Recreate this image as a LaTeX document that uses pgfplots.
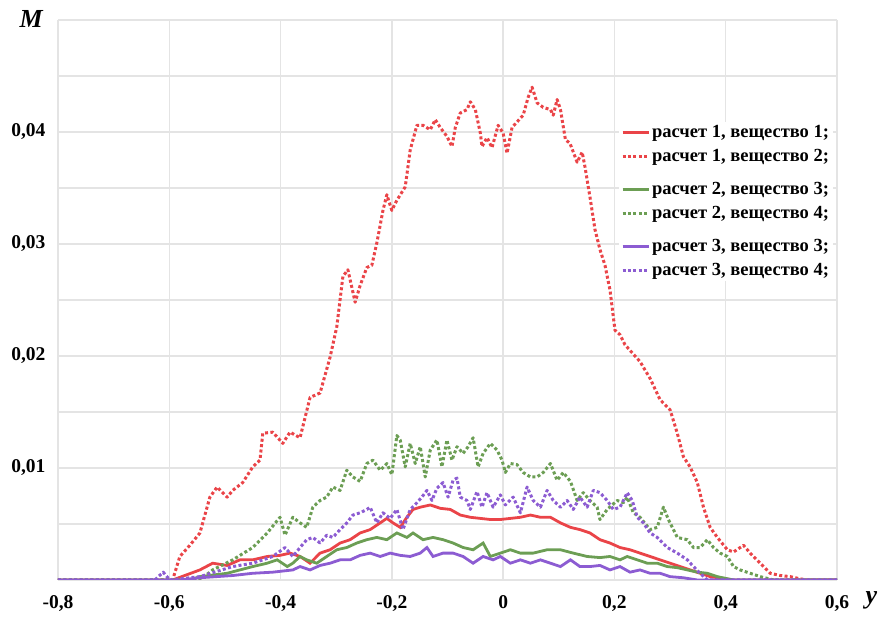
\documentclass[border=0pt]{standalone}
\usepackage{fontspec}
\setmainfont{Liberation Serif}
\usepackage{pgfplots}
\pgfplotsset{compat=1.18}
\definecolor{cred}{RGB}{234,68,72}
\definecolor{cgreen}{RGB}{108,158,84}
\definecolor{cpurple}{RGB}{140,92,210}
\definecolor{cgrid}{RGB}{228,228,228}
\tikzset{dotline/.style={line width=3bp, dash pattern=on 3bp off 2.4bp, line cap=butt, line join=round},
         solline/.style={line width=2.8bp}}
\pgfplotsset{gapimage/.style={legend image code/.code={\draw[##1] (0bp,0bp) -- (26bp,0bp); \path (0bp,-17bp);}}}
\begin{document}
\begin{tikzpicture}
\path[use as bounding box] (-58bp,-40bp) rectangle (826bp,580bp);
\begin{axis}[
  at={(0,0)}, anchor=south west,
  scale only axis, width=779bp, height=560bp,
  xmin=-0.8, xmax=0.6, ymin=0, ymax=0.05,
  scaled y ticks=false, scaled x ticks=false,
  xtick={-0.8,-0.6,-0.4,-0.2,0,0.2,0.4,0.6},
  xticklabels={{-0,8},{-0,6},{-0,4},{-0,2},{0},{0,2},{0,4},{0,6}},
  ytick={0.01,0.02,0.03,0.04},
  yticklabels={{0,01},{0,02},{0,03},{0,04}},
  minor ytick={0,0.005,0.015,0.025,0.035,0.045,0.05},
  grid=both,
  major grid style={cgrid, line width=1.3bp},
  minor grid style={cgrid, line width=1.3bp},
  axis line style={draw=none},
  major tick style={draw=none}, minor tick style={draw=none},
  ticklabel style={font=\bfseries\fontsize{19.5bp}{23bp}\selectfont},
  xticklabel style={yshift=-12bp},
  yticklabel style={xshift=-9bp},
  xlabel={\textbf{\textit{y}}},
  xlabel style={at={(rel axis cs:1,0)}, anchor=west, xshift=25bp, yshift=-20bp, font=\fontsize{26bp}{29bp}\selectfont},
  ylabel={\textbf{\textit{M}}},
  ylabel style={rotate=-90, at={(rel axis cs:0,1)}, anchor=east, xshift=-11bp, yshift=1bp, font=\fontsize{26bp}{29bp}\selectfont},
  legend style={at={(rel axis cs:0.720,0.819)}, anchor=north west, draw=none, fill=white,
    font=\bfseries\fontsize{18.5bp}{21bp}\selectfont, row sep=6bp, inner sep=2bp},
  legend cell align=left,
  legend image code/.code={\draw[#1] (0bp,0bp) -- (26bp,0bp);},
]
% red solid: расчет 1, вещество 1
\addplot[cred, solline] coordinates {
(-0.8,0) (-0.594,0) (-0.545,0.0009) (-0.522,0.0015) (-0.496,0.0013) (-0.473,0.0018)
(-0.450,0.0018) (-0.424,0.0021) (-0.401,0.0022) (-0.383,0.0024) (-0.365,0.0021)
(-0.347,0.0015) (-0.329,0.0024) (-0.311,0.0027) (-0.293,0.0033) (-0.275,0.0036)
(-0.257,0.0042) (-0.239,0.0045) (-0.221,0.0051) (-0.209,0.0055) (-0.198,0.0051)
(-0.185,0.0047) (-0.173,0.0056) (-0.162,0.0063) (-0.149,0.0065) (-0.131,0.0067)
(-0.113,0.0064) (-0.095,0.0063) (-0.077,0.0058) (-0.059,0.0056) (-0.041,0.0055)
(-0.023,0.0054) (-0.005,0.0054) (0.013,0.0055) (0.031,0.0056) (0.049,0.0058)
(0.067,0.0056) (0.085,0.0056) (0.103,0.0051) (0.121,0.0047) (0.138,0.0045)
(0.156,0.0042) (0.174,0.0036) (0.192,0.0033) (0.210,0.0029) (0.228,0.0027)
(0.246,0.0024) (0.264,0.0021) (0.282,0.0018) (0.300,0.0015) (0.318,0.0012)
(0.336,0.0009) (0.354,0.0006) (0.372,0.0003) (0.414,0) (0.6,0)
};
\addlegendentry{расчет 1, вещество 1;}
% red dotted: расчет 1, вещество 2
\addplot[cred, dotline, gapimage] coordinates {
(-0.8,0) (-0.594,0) (-0.581,0.0021) (-0.563,0.0031) (-0.545,0.0042) (-0.527,0.0074)
(-0.514,0.0083) (-0.496,0.0074) (-0.486,0.0080) (-0.468,0.0087) (-0.450,0.0101)
(-0.437,0.0107) (-0.432,0.0131) (-0.414,0.0132) (-0.396,0.0122) (-0.383,0.0132)
(-0.365,0.0127) (-0.347,0.0163) (-0.329,0.0167) (-0.311,0.0199) (-0.299,0.0226)
(-0.288,0.0271) (-0.279,0.0277) (-0.266,0.0248) (-0.257,0.0263) (-0.245,0.0279)
(-0.236,0.0281) (-0.227,0.0301) (-0.216,0.0330) (-0.209,0.0344) (-0.200,0.0330)
(-0.191,0.0339) (-0.176,0.0351) (-0.167,0.0384) (-0.155,0.0406) (-0.144,0.0406)
(-0.131,0.0402) (-0.122,0.0411) (-0.113,0.0404) (-0.101,0.0396) (-0.092,0.0387)
(-0.086,0.0404) (-0.077,0.0417) (-0.065,0.0420) (-0.059,0.0427) (-0.050,0.0420)
(-0.041,0.0399) (-0.038,0.0387) (-0.029,0.0395) (-0.020,0.0386) (-0.009,0.0406)
(0.000,0.0399) (0.007,0.0381) (0.016,0.0404) (0.025,0.0409) (0.036,0.0415)
(0.045,0.0431) (0.052,0.0440) (0.061,0.0426) (0.072,0.0422) (0.085,0.0420)
(0.090,0.0415) (0.097,0.0429) (0.103,0.0420) (0.112,0.0393) (0.120,0.0390)
(0.133,0.0373) (0.142,0.0382) (0.147,0.0369) (0.156,0.0342) (0.165,0.0313)
(0.174,0.0295) (0.183,0.0281) (0.192,0.0259) (0.201,0.0223) (0.210,0.0219)
(0.219,0.0210) (0.228,0.0205) (0.246,0.0195) (0.264,0.0180) (0.282,0.0161)
(0.300,0.0152) (0.313,0.0131) (0.324,0.0110) (0.336,0.0101) (0.349,0.0087)
(0.360,0.0065) (0.372,0.0047) (0.385,0.0038) (0.403,0.0027) (0.414,0.0025)
(0.432,0.0031) (0.444,0.0024) (0.462,0.0015) (0.480,0.0006) (0.498,0.0004)
(0.516,0.0003) (0.534,0.0001) (0.547,0) (0.6,0)
};
\addlegendentry{расчет 1, вещество 2;}
% green solid: расчет 2, вещество 3
\addplot[cgreen, solline] coordinates {
(-0.8,0) (-0.563,0) (-0.545,0.0003) (-0.496,0.0006) (-0.473,0.0009) (-0.450,0.0012)
(-0.424,0.0015) (-0.406,0.0018) (-0.388,0.0012) (-0.378,0.0015) (-0.365,0.0021)
(-0.353,0.0018) (-0.335,0.0015) (-0.317,0.0021) (-0.299,0.0027) (-0.281,0.0029)
(-0.263,0.0033) (-0.245,0.0036) (-0.227,0.0038) (-0.209,0.0036) (-0.191,0.0042)
(-0.173,0.0038) (-0.162,0.0042) (-0.144,0.0036) (-0.126,0.0038) (-0.108,0.0036)
(-0.090,0.0033) (-0.072,0.0029) (-0.054,0.0027) (-0.036,0.0033) (-0.023,0.0021)
(-0.005,0.0024) (0.013,0.0027) (0.031,0.0024) (0.054,0.0024) (0.079,0.0027)
(0.103,0.0027) (0.126,0.0024) (0.151,0.0021) (0.174,0.0020) (0.192,0.0021)
(0.210,0.0018) (0.223,0.0021) (0.241,0.0018) (0.259,0.0015) (0.277,0.0015)
(0.295,0.0012) (0.313,0.0011) (0.331,0.0009) (0.349,0.0007) (0.367,0.0006)
(0.385,0.0003) (0.414,0) (0.6,0)
};
\addlegendentry{расчет 2, вещество 3;}
% green dotted: расчет 2, вещество 4
\addplot[cgreen, dotline, gapimage] coordinates {
(-0.8,0) (-0.545,0) (-0.522,0.0009) (-0.486,0.0018) (-0.450,0.0029) (-0.424,0.0042)
(-0.401,0.0056) (-0.392,0.0040) (-0.378,0.0056) (-0.365,0.0051) (-0.353,0.0047)
(-0.342,0.0065) (-0.329,0.0071) (-0.317,0.0074) (-0.306,0.0083) (-0.293,0.0080)
(-0.281,0.0098) (-0.270,0.0092) (-0.257,0.0088) (-0.245,0.0104) (-0.234,0.0107)
(-0.221,0.0098) (-0.209,0.0104) (-0.200,0.0094) (-0.191,0.0129) (-0.185,0.0125)
(-0.176,0.0101) (-0.167,0.0122) (-0.158,0.0104) (-0.149,0.0119) (-0.140,0.0092)
(-0.131,0.0116) (-0.119,0.0125) (-0.110,0.0101) (-0.101,0.0125) (-0.092,0.0107)
(-0.083,0.0119) (-0.072,0.0113) (-0.063,0.0119) (-0.054,0.0127) (-0.045,0.0101)
(-0.036,0.0113) (-0.023,0.0122) (-0.011,0.0116) (-0.002,0.0107) (0.004,0.0096)
(0.013,0.0104) (0.025,0.0103) (0.036,0.0096) (0.049,0.0092) (0.061,0.0092)
(0.072,0.0096) (0.085,0.0104) (0.097,0.0089) (0.108,0.0096) (0.121,0.0088)
(0.133,0.0071) (0.144,0.0078) (0.156,0.0071) (0.169,0.0065) (0.174,0.0054)
(0.187,0.0063) (0.205,0.0071) (0.216,0.0069) (0.223,0.0074) (0.234,0.0060)
(0.246,0.0056) (0.264,0.0045) (0.277,0.0047) (0.288,0.0065) (0.297,0.0054)
(0.313,0.0038) (0.331,0.0036) (0.342,0.0029) (0.354,0.0029) (0.367,0.0036)
(0.378,0.0029) (0.390,0.0024) (0.403,0.0021) (0.414,0.0012) (0.426,0.0009)
(0.444,0.0006) (0.462,0.0003) (0.486,0) (0.6,0)
};
\addlegendentry{расчет 2, вещество 4;}
% purple solid: расчет 3, вещество 3
\addplot[cpurple, solline] coordinates {
(-0.8,0) (-0.581,0) (-0.545,0.0002) (-0.486,0.0004) (-0.450,0.0006) (-0.414,0.0007)
(-0.378,0.0009) (-0.365,0.0012) (-0.347,0.0009) (-0.329,0.0013) (-0.311,0.0015)
(-0.293,0.0018) (-0.275,0.0018) (-0.257,0.0022) (-0.239,0.0024) (-0.221,0.0021)
(-0.203,0.0024) (-0.185,0.0022) (-0.167,0.0021) (-0.149,0.0024) (-0.137,0.0029)
(-0.126,0.0021) (-0.108,0.0024) (-0.090,0.0024) (-0.072,0.0021) (-0.054,0.0015)
(-0.036,0.0021) (-0.018,0.0018) (-0.005,0.0021) (0.013,0.0015) (0.031,0.0018)
(0.049,0.0015) (0.067,0.0018) (0.085,0.0015) (0.103,0.0012) (0.121,0.0018)
(0.138,0.0012) (0.156,0.0012) (0.174,0.0013) (0.192,0.0009) (0.210,0.0012)
(0.228,0.0007) (0.246,0.0009) (0.264,0.0006) (0.282,0.0006) (0.300,0.0003)
(0.324,0.0002) (0.349,0) (0.6,0)
};
\addlegendentry{расчет 3, вещество 3;}
% purple dotted: расчет 3, вещество 4
\addplot[cpurple, dotline] coordinates {
(-0.8,0) (-0.626,0) (-0.611,0.0007) (-0.599,0) (-0.545,0.0003) (-0.486,0.0012)
(-0.450,0.0015) (-0.414,0.0021) (-0.392,0.0029) (-0.378,0.0021) (-0.365,0.0029)
(-0.353,0.0036) (-0.342,0.0038) (-0.329,0.0033) (-0.317,0.0040) (-0.306,0.0038)
(-0.293,0.0045) (-0.281,0.0051) (-0.270,0.0058) (-0.257,0.0060) (-0.245,0.0063)
(-0.239,0.0065) (-0.227,0.0051) (-0.216,0.0060) (-0.203,0.0055) (-0.191,0.0063)
(-0.180,0.0045) (-0.167,0.0063) (-0.155,0.0069) (-0.146,0.0074) (-0.137,0.0080)
(-0.128,0.0071) (-0.119,0.0082) (-0.108,0.0087) (-0.099,0.0074) (-0.090,0.0089)
(-0.083,0.0091) (-0.077,0.0074) (-0.065,0.0071) (-0.059,0.0063) (-0.047,0.0079)
(-0.038,0.0065) (-0.029,0.0078) (-0.018,0.0065) (-0.005,0.0076) (0.004,0.0067)
(0.018,0.0074) (0.031,0.0060) (0.043,0.0083) (0.054,0.0071) (0.067,0.0065)
(0.079,0.0080) (0.090,0.0071) (0.103,0.0065) (0.115,0.0071) (0.126,0.0063)
(0.138,0.0074) (0.151,0.0065) (0.162,0.0080) (0.174,0.0078) (0.187,0.0071)
(0.198,0.0063) (0.210,0.0065) (0.223,0.0078) (0.232,0.0071) (0.241,0.0056)
(0.252,0.0051) (0.264,0.0042) (0.277,0.0038) (0.295,0.0029) (0.313,0.0024)
(0.331,0.0018) (0.342,0.0012) (0.354,0.0006) (0.367,0) (0.6,0)
};
\addlegendentry{расчет 3, вещество 4;}
\end{axis}
\end{tikzpicture}
\end{document}
